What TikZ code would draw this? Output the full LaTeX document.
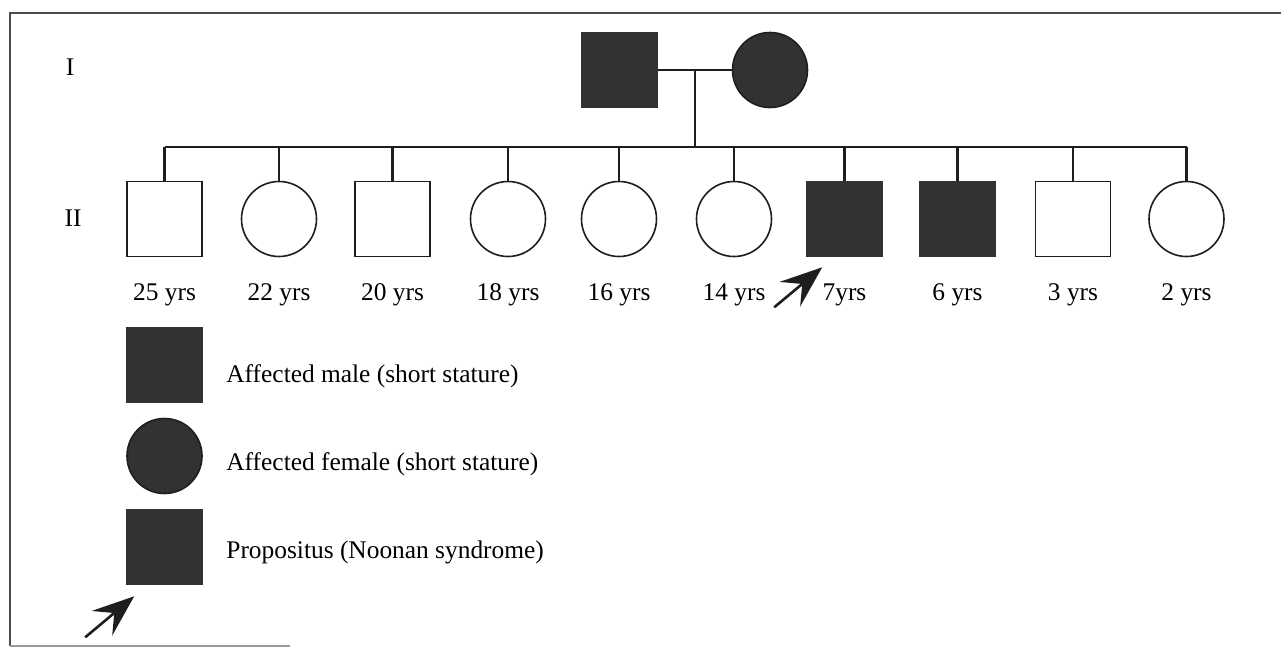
\documentclass[tikz,border=0pt]{standalone}
\usepackage{fontspec}
\setmainfont{Liberation Serif}
\usetikzlibrary{arrows.meta,calc}
\newcommand{\SZ}{37.5pt}
\newcommand{\SIBY}{147}
\newcommand{\GENY}{219}
\newcommand{\AGEY}{300}
\definecolor{pedfill}{RGB}{50,50,50}
\definecolor{pedline}{RGB}{30,30,30}

\begin{document}
\begin{tikzpicture}[
    x=0.5pt, y=-0.5pt,
    leg/.style={draw=pedline, line width=1.2pt},
    M/.style={rectangle, draw=pedline, fill=white, line width=0.8pt, minimum size=\SZ, inner sep=0pt},
    F/.style={circle, draw=pedline, fill=white, line width=0.8pt, minimum size=\SZ, inner sep=0pt},
    Ma/.style={M, fill=pedfill, draw=pedfill},
    Fa/.style={F, fill=pedfill, draw=pedline},
    tag/.style={font=\fontsize{12.7}{15}\selectfont, inner sep=0pt},
    pointer/.style={-{Stealth[length=21pt,width=16pt,inset=8pt]}, draw=pedline, fill=pedfill, line width=1.3pt},
    frame/.style={draw=black!70, line width=0.8pt},
  ]
  \useasboundingbox (0,0) rectangle (1281,648);

  %% ================= frame =================
  \draw[frame] (1281,13) -- (10,13) -- (10,646);
  \draw[black!40, line width=0.8pt] (10,646) -- (290,646);

  %% ================= generation labels =================
  \node[tag] (genI)  at (70,67)  {I};
  \node[tag] (genII) at (73,218) {II};

  %% ================= generation I =================
  \node[Ma] (father) at (619.5,70) {};
  \node[Fa] (mother) at (770,70)   {};
  \draw[leg] (father) -- (mother);
  \coordinate (sib) at (0,\SIBY);
  \coordinate (mate) at ($(father.east)!0.5!(mother.west)$);
  \draw[leg] (mate) -- (mate |- sib);

  %% ================= generation II =================
  \foreach \n/\x/\s/\age in {1/164.5/M/25 yrs, 2/279/F/22 yrs, 3/392.5/M/20 yrs,
      4/508/F/18 yrs, 5/619/F/16 yrs, 6/734/F/14 yrs, 7/844.5/Ma/7yrs,
      8/957.5/Ma/6 yrs, 9/1073/M/3 yrs, 10/1186.5/F/2 yrs} {
    \node[style=\s] (c\n) at (\x,\GENY) {};
    \draw[leg] (c\n.north) -- (c\n.north |- sib);
    \node[tag, anchor=base] (age\n) at (\x,\AGEY) {\age};
  }
  \draw[leg] (c1.north |- sib) -- (c10.north |- sib);

  % propositus in the sibship
  \coordinate (p7tip)  at ([shift={(16,10)}]c7.south west);
  \coordinate (p7tail) at ([shift={(-32,50)}]c7.south west);
  \draw[pointer] (p7tail) -- (p7tip);

  %% ================= key =================
  \node[Ma] (keym) at (164.5,365) {};
  \node[Fa] (keyf) at (164.5,456) {};
  \node[Ma] (keyp) at (164.5,547) {};
  \node[tag, anchor=base west] (keymtxt) at (226,382) {Affected male (short stature)};
  \node[tag, anchor=base west] (keyftxt) at (226,470) {Affected female (short stature)};
  \node[tag, anchor=base west] (keyptxt) at (226,558) {Propositus (Noonan syndrome)};

  \coordinate (pktip)  at ([shift={(8,11)}]keyp.south west);
  \coordinate (pktail) at ([shift={(-41,52)}]keyp.south west);
  \draw[pointer] (pktail) -- (pktip);

\end{tikzpicture}
\end{document}
